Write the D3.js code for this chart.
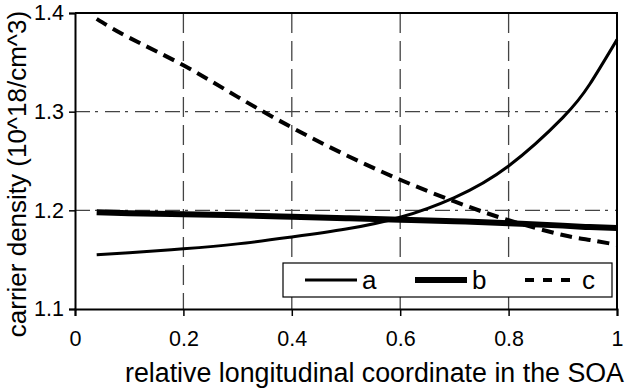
<!DOCTYPE html>
<html>
<head>
<meta charset="utf-8">
<script src="https://cdn.jsdelivr.net/npm/d3@7"></script>
<style>
  body { margin: 0; background: white; }
  svg { font-family: "Liberation Sans", Arial, sans-serif; }
</style>
</head>
<body>
<div id="main_div"></div>
<script>
var CHART_WIDTH = 630;
var CHART_HEIGHT = 392;

// position along the SOA (x) and carrier density of each curve
var xCoord = [0.04, 0.1, 0.2, 0.3, 0.4, 0.5, 0.6, 0.7, 0.8, 0.9, 0.95, 1.0];
var seriesA = [1.155, 1.157, 1.161, 1.166, 1.173, 1.181, 1.193, 1.213, 1.245, 1.294, 1.328, 1.373];
var seriesB = [1.198, 1.197, 1.196, 1.195, 1.1935, 1.192, 1.1905, 1.189, 1.187, 1.1845, 1.183, 1.182];
var seriesC = [1.394, 1.375, 1.347, 1.315, 1.284, 1.256, 1.231, 1.209, 1.190, 1.175, 1.170, 1.165];

var seriesNames = ["a", "b", "c"];
var xTicks = [0, 0.2, 0.4, 0.6, 0.8, 1];
var yTicks = [1.1, 1.2, 1.3, 1.4];

var xLabel = "relative longitudinal coordinate in the SOA";
var yLabel = "carrier density (10^18/cm^3)";


function drawChart() {

  var svg = d3.select("#main_div").append("svg")
                .attr("width", CHART_WIDTH)
                .attr("height", CHART_HEIGHT);

  var x = d3.scaleLinear().domain([0, 1]).range([75, 617]);
  var y = d3.scaleLinear().domain([1.1, 1.4]).range([309, 13]);

  // Gridlines
  svg.append("g").selectAll("line")
      .data(xTicks.slice(1, -1)).enter()
    .append("line")
      .attr("x1", function(d) { return x(d); })
      .attr("x2", function(d) { return x(d); })
      .attr("y1", y(1.4))
      .attr("y2", y(1.1))
      .style("stroke", "#444")
      .style("stroke-width", 1.3)
      .style("stroke-dasharray", "20,8");

  svg.append("g").selectAll("line")
      .data(yTicks.slice(1, -1)).enter()
    .append("line")
      .attr("x1", x(0))
      .attr("x2", x(1))
      .attr("y1", function(d) { return y(d); })
      .attr("y2", function(d) { return y(d); })
      .style("stroke", "#444")
      .style("stroke-width", 1.3)
      .style("stroke-dasharray", "15,5,3,7");

  // Axes
  var xAxis = svg.append("g")
      .attr("transform", "translate(0," + y(1.1) + ")")
      .call(d3.axisBottom(x).tickValues(xTicks).tickSize(7).tickPadding(15)
              .tickFormat(function(d) { return String(d); }));

  var yAxis = svg.append("g")
      .attr("transform", "translate(" + x(0) + ",0)")
      .call(d3.axisLeft(y).tickValues(yTicks).tickSize(6).tickPadding(5)
              .tickFormat(function(d) { return String(d); }));

  [xAxis, yAxis].forEach(function(ax) {
    ax.select(".domain").style("stroke", "black").style("stroke-width", 2);
    ax.selectAll(".tick line").style("stroke", "black").style("stroke-width", 1.5);
    ax.selectAll(".tick text")
        .style("font-family", "'Liberation Sans', Arial, sans-serif")
        .style("font-size", "21.5px")
        .style("fill", "black");
  });

  // Plot frame (top and right)
  svg.append("path")
      .attr("d", "M" + x(0) + "," + y(1.4) + "H" + x(1) + "V" + y(1.1))
      .style("fill", "none")
      .style("stroke", "black")
      .style("stroke-width", 2);

  // Curves
  var line = d3.line()
      .x(function(d) { return x(d[0]); })
      .y(function(d) { return y(d[1]); })
      .curve(d3.curveNatural);

  var styles = [
    { width: 3, dash: null },
    { width: 6, dash: null },
    { width: 4, dash: "12,7" }
  ];
  var allSeries = [seriesA, seriesB, seriesC];

  allSeries.forEach(function(vals, i) {
    svg.append("path")
        .datum(d3.zip(xCoord, vals))
        .attr("d", line)
        .style("fill", "none")
        .style("stroke", "black")
        .style("stroke-width", styles[i].width)
        .style("stroke-dasharray", styles[i].dash);
  });

  // Legend
  var legend = svg.append("g").attr("transform", "translate(283,263)");
  legend.append("rect")
      .attr("width", 329)
      .attr("height", 34)
      .style("fill", "white")
      .style("stroke", "black")
      .style("stroke-width", 1.2);

  var entry = legend.selectAll("g.entry")
      .data(seriesNames).enter()
    .append("g")
      .attr("class", "entry")
      .attr("transform", function(d, i) { return "translate(" + (22 + i * 110) + ",0)"; });

  entry.append("line")
      .attr("x1", 0)
      .attr("x2", function(d, i) { return i == 2 ? 47 : 52; })
      .attr("y1", 17)
      .attr("y2", 17)
      .style("stroke", "black")
      .style("stroke-width", function(d, i) { return styles[i].width; })
      .style("stroke-dasharray", function(d, i) { return i == 2 ? "9,9" : null; });

  entry.append("text")
      .attr("x", 57)
      .attr("y", 26)
      .style("font-size", "26px")
      .text(function(d) { return d; });

  // Axis titles
  svg.append("text")
      .attr("x", 624)
      .attr("y", 382)
      .attr("text-anchor", "end")
      .style("font-size", "26.8px")
      .text(xLabel);

  svg.append("text")
      .attr("transform", "translate(26,174) rotate(-90)")
      .attr("text-anchor", "middle")
      .style("font-size", "26px")
      .text(yLabel);
}

drawChart();
</script>
</body>
</html>
